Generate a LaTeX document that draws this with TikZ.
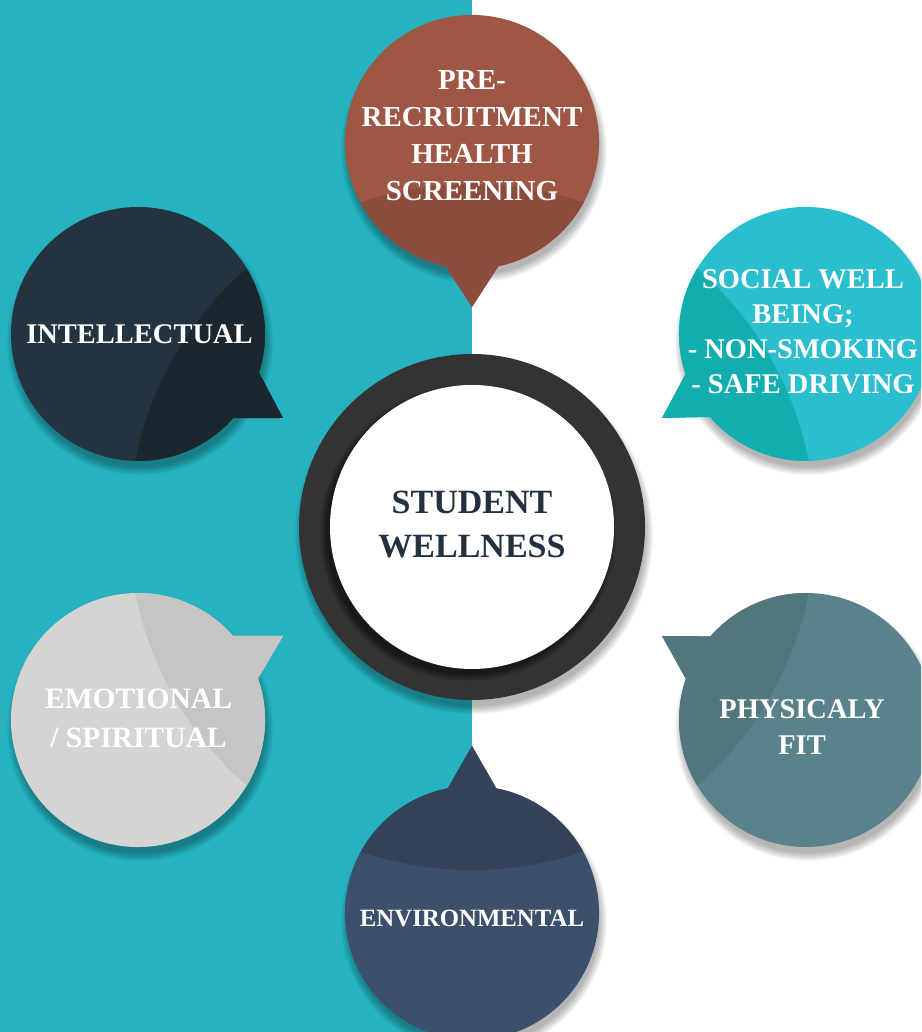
\documentclass[tikz,border=0pt]{standalone}
\usepackage{fontspec}
\setmainfont{Liberation Serif}
\usetikzlibrary{calc}
\definecolor{bgteal}{HTML}{26B2BF}
\definecolor{brownA}{HTML}{9E5745}
\definecolor{brownB}{HTML}{8D4B3D}
\definecolor{navyA}{HTML}{233440}
\definecolor{navyB}{HTML}{1C262E}
\definecolor{cyanA}{HTML}{2BBECE}
\definecolor{cyanB}{HTML}{12ADAE}
\definecolor{greyA}{HTML}{D5D4D3}
\definecolor{greyB}{HTML}{C6C5C4}
\definecolor{slateA}{HTML}{5A828B}
\definecolor{slateB}{HTML}{52767B}
\definecolor{blueA}{HTML}{3D506B}
\definecolor{blueB}{HTML}{34435A}
\definecolor{ringc}{HTML}{333333}
\definecolor{hubtext}{HTML}{22313F}
\tikzset{
  x=1pt, y=1pt,
  shadowlayer/.style={black, opacity=0.035},
  lbl/.style={text=white, font=\bfseries\fontsize{28.5}{36}\selectfont, align=center, inner sep=0pt},
}
% soft shadow: #1 centre, #2 radius
\newcommand{\softshadow}[2]{%
  \foreach \k in {1,...,9}{\fill[shadowlayer] ($#1+(2,-8)$) circle[radius=#2pt+\k pt-3pt];}%
}
% #1 centre, #2 upper tail angle, #3 tip, #4 lower tail angle, #5 main colour, #6 dark colour
\newcommand{\mybubble}[6]{%
  \softshadow{#1}{127}
  \fill[#5] ($#1+(#2:127pt)$) -- #3 -- ($#1+(#4:127pt)$)
     arc[start angle=#4, end angle=#2-360, radius=127pt] -- cycle;
  \begin{scope}
    \clip ($#1+(#2:127pt)$) -- #3 -- ($#1+(#4:127pt)$)
     arc[start angle=#4, end angle=#2-360, radius=127pt] -- cycle;
    \fill[#6] (472,505) circle[radius=343pt];
  \end{scope}%
}
\begin{document}
\begin{tikzpicture}
\useasboundingbox (0,0) rectangle (921,1032);
\clip (0,0) rectangle (921,1032);
\fill[white] (0,0) rectangle (921,1032);
\fill[bgteal] (0,0) rectangle (472,1032);

% bubbles
\mybubble{(472,890)}{-78}{(472,725)}{-102}{brownA}{brownB}
\mybubble{(138,698)}{-17.7}{(283,614)}{-41.5}{navyA}{navyB}
\mybubble{(806,698)}{220.8}{(662,614)}{198.4}{cyanA}{cyanB}
\mybubble{(138,312)}{41.5}{(283,396)}{19.1}{greyA}{greyB}
\mybubble{(806,312)}{161.1}{(662,396)}{138.8}{slateA}{slateB}
\mybubble{(472,119)}{101}{(472,286)}{79}{blueA}{blueB}

% hub
\softshadow{(472,505)}{173}
\fill[ringc] (472,505) circle[radius=173pt];
\begin{scope}
  \clip (472,505) circle[radius=173pt];
  \foreach \k in {1,...,8}{\fill[black, opacity=0.07] (468,499) circle[radius=140pt+\k pt];}
\end{scope}
\fill[white] (472,505) circle[radius=142pt];

% labels
\node[lbl, font=\bfseries\fontsize{29}{37}\selectfont] (pre) at (472,896) {PRE-\\RECRUITMENT\\HEALTH\\SCREENING};
\node[lbl] (intel) at (139.5,698) {INTELLECTUAL};
\node[lbl, font=\bfseries\fontsize{28.5}{35}\selectfont] (social) at (803,700) {SOCIAL WELL\\BEING;\\- NON-SMOKING\\- SAFE DRIVING};
\node[lbl, font=\bfseries\fontsize{29.5}{39}\selectfont] (emot) at (138.5,314) {EMOTIONAL\\/ SPIRITUAL};
\node[lbl] (phys) at (802,305) {PHYSICALY\\FIT};
\node[lbl, font=\bfseries\fontsize{24.8}{30}\selectfont] (env) at (472,114) {ENVIRONMENTAL};
\node[lbl, text=hubtext, font=\bfseries\fontsize{34}{44}\selectfont] (hub) at (472,507) {STUDENT\\WELLNESS};
\end{tikzpicture}
\end{document}
